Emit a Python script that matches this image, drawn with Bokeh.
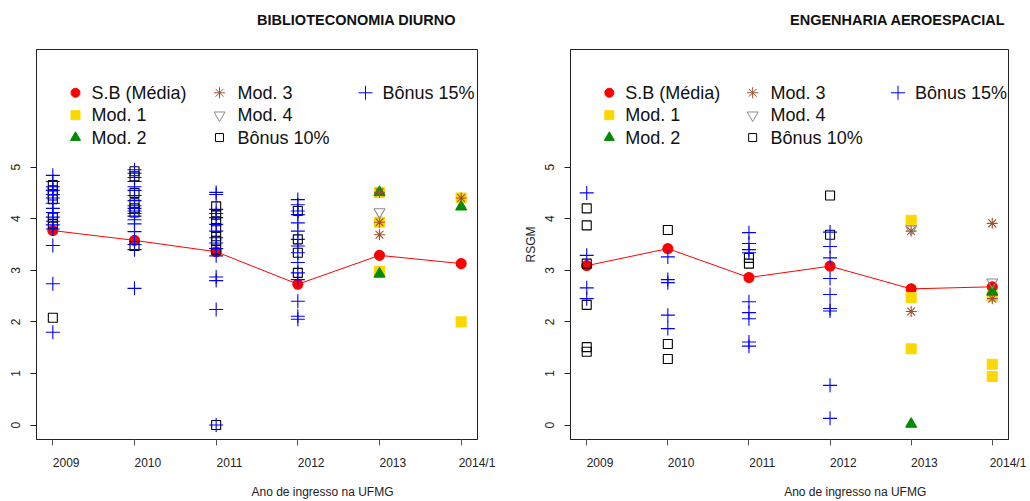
import math
from bokeh.plotting import figure
from bokeh.layouts import row
from bokeh.models import FixedTicker, LinearAxis
from bokeh.core.properties import value
from bokeh.embed import file_html
from bokeh.resources import INLINE

# ---------------- data ----------------
years = ["2009", "2010", "2011", "2012", "2013", "2014/1"]
xpos = [1, 2, 3, 4, 5, 6]

titles = ["BIBLIOTECONOMIA DIURNO", "ENGENHARIA AEROESPACIAL"]
xlabel = "Ano de ingresso na UFMG"
ylabel_right = "RSGM"

legend_labels = ["S.B (Média)", "Mod. 1", "Mod. 2", "Mod. 3", "Mod. 4", "Bônus 10%", "Bônus 15%"]

# Biblioteconomia diurno
bib_mean = [3.77, 3.58, 3.36, 2.73, 3.29, 3.13]
bib_mod1 = [[], [], [], [], [4.51, 3.93, 2.98], [4.40, 2.00]]
bib_mod2 = [[], [], [], [], [4.51, 2.93], [4.23]]
bib_mod3 = [[], [], [], [], [4.51, 3.93, 3.69], [4.40]]
bib_mod4 = [[], [], [], [], [4.13], []]
bib_b10 = [
    [4.65, 4.55, 4.45, 4.38, 4.02, 3.90, 2.08],
    [4.92, 4.82, 4.50, 4.30, 4.20, 4.12, 3.47],
    [4.24, 4.08, 3.95, 3.82, 3.66, 3.57, 3.40, 0.0],
    [4.15, 3.60, 3.34, 2.95],
    [], [],
]
bib_b15 = [
    [4.84, 4.72, 4.62, 4.55, 4.47, 4.40, 4.30, 4.20, 4.12, 4.03, 3.95, 3.88, 3.80, 3.48, 2.74, 1.80],
    [4.95, 4.88, 4.80, 4.72, 4.62, 4.55, 4.45, 4.35, 4.25, 4.20, 4.15, 4.10, 4.05, 3.98, 3.90, 3.75, 3.50, 3.40, 2.65],
    [4.51, 4.47, 4.18, 4.10, 4.02, 3.89, 3.76, 3.63, 3.53, 3.42, 3.28, 2.87, 2.80, 2.24, 0.0],
    [4.37, 4.27, 4.15, 4.08, 3.92, 3.76, 3.60, 3.47, 3.34, 3.15, 2.95, 2.82, 2.40, 2.11, 2.05],
    [], [],
]

# Engenharia aeroespacial
aer_mean = [3.09, 3.42, 2.86, 3.08, 2.64, 2.68]
aer_mod1 = [[], [], [], [], [3.97, 2.47, 1.48], [2.50, 1.18, 0.94]]
aer_mod2 = [[], [], [], [], [0.02], [2.58]]
aer_mod3 = [[], [], [], [], [3.76, 2.20], [3.91, 2.45]]
aer_mod4 = [[], [], [], [], [3.80], [2.77]]
aer_b10 = [
    [4.20, 3.87, 3.13, 2.33, 1.51, 1.42],
    [3.78, 1.57, 1.28],
    [3.24, 3.13],
    [4.45, 3.69],
    [], [],
]
aer_b15 = [
    [4.50, 3.29, 2.66, 2.45],
    [3.26, 2.82, 2.76, 2.13, 1.87],
    [3.73, 3.52, 3.40, 3.34, 2.39, 2.18, 2.06, 1.61, 1.53],
    [3.74, 3.46, 3.24, 2.84, 2.53, 2.26, 2.21, 0.77, 0.13],
    [], [],
]

# ---------------- styling ----------------
FONT = "Liberation Sans"
XR = (0.8, 6.2)
YR = (-0.28, 7.28)
FH = 392
HEIGHT = 501
CHAR_W = {"/": 0.278}  # digits are 0.556 em in Liberation Sans
BOLD_W = {"A": .722, "B": .722, "C": .722, "D": .722, "E": .667, "G": .778,
          "H": .722, "I": .278, "L": .611, "M": .833, "N": .722, "O": .778,
          "P": .667, "R": .722, "S": .667, "T": .611, "U": .722, " ": .278}
TITLE_PX = 14.5

STYLES = [
    # marker, color, fill, size, legend size
    ("circle", "#FF0000", True, 10, 9),
    ("square", "#FFD700", True, 10, 9),
    ("triangle", "#008B00", True, 11, 10),
    ("asterisk", "#A0522D", False, 11, 11),
    ("inverted_triangle", "#8C8C8C", False, 11, 11),
    ("square", "#000000", False, 9, 8),
    ("cross", "#0000FF", False, 14, 14),
]


def flat(groups):
    xs, ys = [], []
    for i, g in enumerate(groups):
        for v in g:
            xs.append(xpos[i])
            ys.append(v)
    return xs, ys


def text_w(s, size=12):
    return sum(CHAR_W.get(c, 0.556) for c in s) * size


def label_axis(ticks, texts, standoff, size="12px", style="normal"):
    return LinearAxis(ticker=FixedTicker(ticks=ticks),
                      major_label_overrides={t: s for t, s in zip(ticks, texts)},
                      major_tick_out=0, major_tick_in=0, major_tick_line_color=None,
                      minor_tick_line_color=None, axis_line_color=None,
                      major_label_standoff=standoff, major_label_text_font=FONT,
                      major_label_text_font_size=size, major_label_text_font_style=style,
                      major_label_text_color="#111111" if style == "bold" else "#222222")


def make_panel(title, mean, mods, b10, b15, width, bl, br, fw, ylab=None):
    p = figure(width=width, height=HEIGHT, x_range=XR, y_range=YR,
               output_backend="svg", toolbar_location=None,
               min_border_left=bl, min_border_right=br,
               min_border_top=49, min_border_bottom=HEIGHT - 49 - FH)
    p.grid.visible = False
    p.outline_line_color = "#222222"
    p.outline_line_width = 1
    p.background_fill_color = "white"
    ppu = fw / (XR[1] - XR[0])

    def px(dx):
        return XR[0] + dx / ppu

    def py(dy):
        return YR[1] - dy / FH * (YR[1] - YR[0])

    # x axis: tick marks only
    ax = p.below[0]
    ax.ticker = FixedTicker(ticks=xpos)
    ax.major_label_overrides = {x: "" for x in xpos}
    ax.major_label_standoff = 0
    ax.major_tick_out = 6
    ax.major_tick_in = 0
    ax.minor_tick_line_color = None
    ax.axis_line_color = "#222222"
    ax.major_tick_line_color = "#555555"

    # year labels, left-aligned at the ticks (R style), kept inside the frame span
    lab_ticks = [min(x + text_w(y) / 2 / ppu, XR[1] - 0.5 / ppu) for x, y in zip(xpos, years)]
    p.add_layout(label_axis(lab_ticks, years, 10), "below")

    # x axis title
    xc = px(286)
    p.add_layout(label_axis([xc], [xlabel], 12), "below")

    # title (as a single-label axis above the frame)
    tw = sum(BOLD_W.get(c, 0.7) for c in title) * TITLE_PX
    tc = px(220.5 + tw / 2)
    p.add_layout(label_axis([tc], [title], 22, f"{TITLE_PX}px", "bold"), "above")

    # y axis
    ay = p.left[0]
    ay.ticker = FixedTicker(ticks=[0, 1, 2, 3, 4, 5])
    ay.major_label_orientation = "vertical"
    ay.major_label_text_font = FONT
    ay.major_label_text_font_size = "12px"
    ay.major_label_text_color = "#222222"
    ay.major_label_standoff = 10
    ay.major_tick_out = 6
    ay.major_tick_in = 0
    ay.minor_tick_line_color = None
    ay.axis_line_color = "#222222"
    ay.major_tick_line_color = "#222222"
    if ylab:
        ay.axis_label = ylab
        ay.axis_label_text_font = FONT
        ay.axis_label_text_font_size = "12px"
        ay.axis_label_text_font_style = "normal"
        ay.axis_label_text_color = "#222222"
        ay.axis_label_standoff = 5

    # data
    p.line(xpos, mean, line_color="#FF0000", line_width=1)
    series = [None] + mods + [b10, b15]
    for k, (marker, color, fill, size, _) in enumerate(STYLES):
        if k == 0:
            xs, ys = xpos, mean
        else:
            xs, ys = flat(series[k])
        if not xs:
            continue
        p.scatter(xs, ys, marker=marker, size=size, line_color=color,
                  fill_color=color if fill else None, line_width=1.1)

    # legend (manual, R-style 3 columns)
    cols = [(39, 55), (183, 201), (329, 346)]
    rows_ = [43.5, 66, 88.5]
    for k, lab in enumerate(legend_labels):
        c, r = divmod(k, 3)
        gx, tx = cols[c]
        marker, color, fill, _, lsize = STYLES[k]
        p.scatter([px(gx)], [py(rows_[r])], marker=marker, size=lsize,
                  line_color=color, fill_color=color if fill else None, line_width=1)
        p.text([px(tx)], [py(rows_[r])], text=[lab], text_font=value(FONT),
               text_font_size="18px", text_baseline="middle", text_align="left",
               text_color="#111111")
    return p


p1 = make_panel(titles[0], bib_mean, [bib_mod1, bib_mod2, bib_mod3, bib_mod4],
                bib_b10, bib_b15, width=520, bl=36, br=43, fw=441)
p2 = make_panel(titles[1], aer_mean, [aer_mod1, aer_mod2, aer_mod3, aer_mod4],
                aer_b10, aer_b15, width=508, bl=48, br=20, fw=440, ylab=ylabel_right)

p = row(p1, p2)
open("out.html", "w").write(file_html(p, INLINE))
